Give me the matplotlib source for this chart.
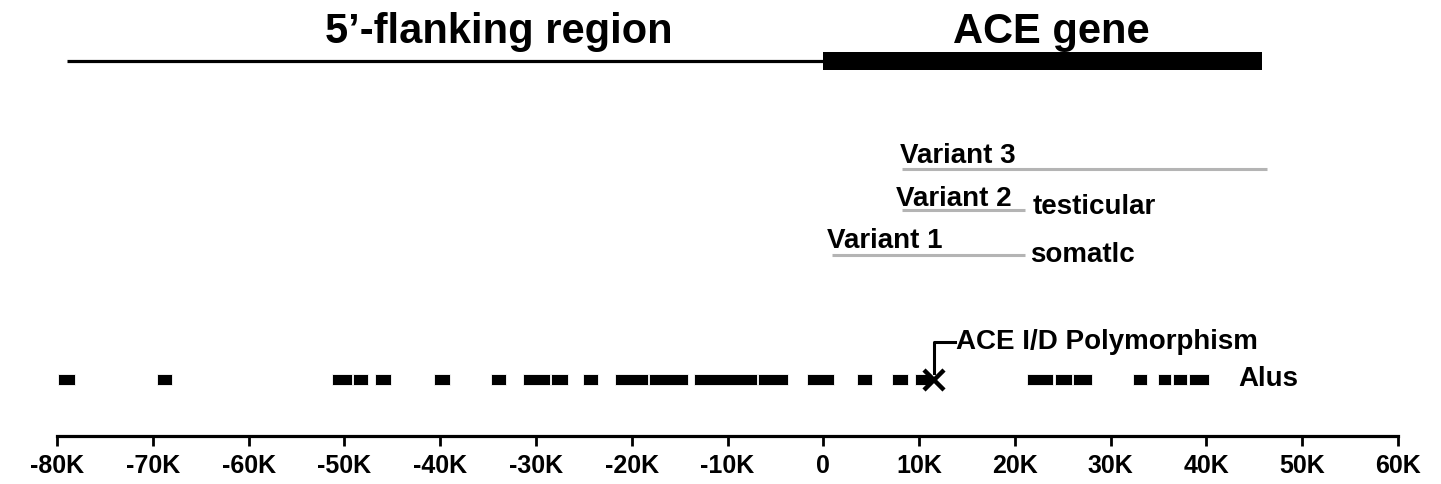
import matplotlib.pyplot as plt

# positions in kb relative to the ACE gene start
flank_start, flank_end = -79.0, 0.0
gene_start, gene_end = 0.0, 45.8

variant_names = ['Variant 1', 'Variant 2', 'Variant 3']
variant_start = [0.9, 8.2, 8.2]
variant_end = [21.1, 21.1, 46.3]

# Alu elements (start, end), kb
alu_start = [-79.9, -69.6, -51.3, -49.1, -46.8, -40.6, -34.7, -31.4, -28.4, -25.1,
             -21.7, -18.2, -13.5, -6.8, -1.7, 3.5, 7.2, 9.6, 21.3, 24.2,
             26.1, 32.3, 34.9, 36.5, 38.2]
alu_end = [-78.1, -68.0, -49.2, -47.5, -45.1, -39.0, -33.1, -28.5, -26.7, -23.5,
           -18.3, -14.1, -6.9, -3.7, 1.1, 5.1, 8.8, 11.2, 24.0, 26.0,
           28.1, 33.8, 36.3, 38.0, 40.3]

id_poly = 11.6   # ACE I/D polymorphism position

tick_vals = [-80, -70, -60, -50, -40, -30, -20, -10, 0, 10, 20, 30, 40, 50, 60]
tick_labels = ['-80K', '-70K', '-60K', '-50K', '-40K', '-30K', '-20K', '-10K', '0',
               '10K', '20K', '30K', '40K', '50K', '60K']

plt.rcParams['font.family'] = ['Liberation Sans', 'DejaVu Sans']
plt.rcParams['font.weight'] = 'bold'

W, H = 1441, 485
fig = plt.figure(figsize=(W / 100.0, H / 100.0), dpi=100)
# x from -80K (px 57) to 60K (px 1398); y in pixel rows from the top
ax = fig.add_axes([57.0 / W, 0.0, (1398.0 - 57.0) / W, 1.0])
ax.set_xlim(-80, 60)
ax.set_ylim(H, 0)

# top: flanking region + gene
ax.plot([flank_start, flank_end], [62, 62], color='black', lw=2.3, solid_capstyle='butt')
ax.barh(62, gene_end - gene_start, left=gene_start, height=18, color='black')
ax.text(-33.9, 43, u'5\u2019-flanking region', fontsize=30, fontweight='bold',
        ha='center', va='baseline')
ax.text(23.8, 43, 'ACE gene', fontsize=30, fontweight='bold', ha='center', va='baseline')

# transcript variants
var_y = [256, 211, 170]
lab_x = [0.4, 7.6, 8.0]
lab_y = [248, 206, 163]
for i in range(3):
    ax.plot([variant_start[i], variant_end[i]], [var_y[i], var_y[i]], color='#b4b4b4',
            lw=2.2, solid_capstyle='butt')
    ax.text(lab_x[i], lab_y[i], variant_names[i], fontsize=20, ha='left', va='baseline')
ax.text(21.9, 214, 'testicular', fontsize=20, ha='left', va='baseline')
ax.text(21.6, 262, 'somatlc', fontsize=20, ha='left', va='baseline')

# Alus
widths = [e - s for s, e in zip(alu_start, alu_end)]
ax.barh([380] * len(alu_start), widths, left=alu_start, height=11, color='black',
        edgecolor='white', linewidth=0.6)
ax.text(43.3, 386, 'Alus', fontsize=20, ha='left', va='baseline')

# I/D polymorphism marker with bracket
ax.plot([id_poly], [381], marker='x', color='black', markersize=15, mew=3.2)
ax.plot([id_poly, id_poly, id_poly + 2.2], [374, 343, 343], color='black', lw=2.2)
ax.text(id_poly + 2.3, 349, 'ACE I/D Polymorphism', fontsize=20, ha='left', va='baseline')

# bottom axis
for s in ['left', 'top', 'right']:
    ax.spines[s].set_visible(False)
ax.spines['bottom'].set_position(('data', 437))
ax.spines['bottom'].set_linewidth(2.3)
ax.set_yticks([])
ax.set_xticks(tick_vals)
ax.set_xticklabels(tick_labels, fontsize=18, fontweight='bold')
ax.tick_params(axis='x', direction='out', length=7, width=2.0, pad=5)
ax.patch.set_alpha(0)

fig.savefig('out.png', dpi=100)
